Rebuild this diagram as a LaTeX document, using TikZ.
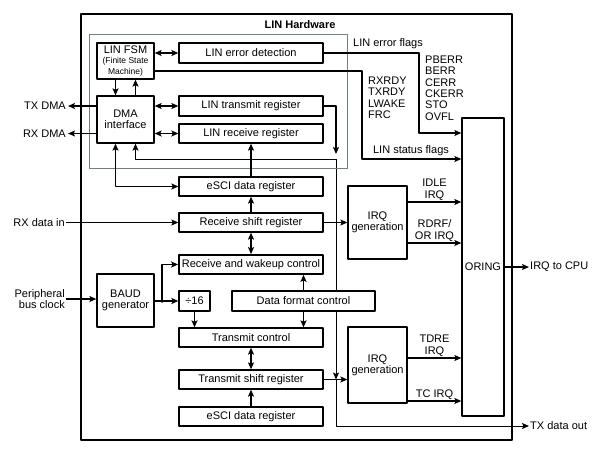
\documentclass[tikz,border=0pt]{standalone}
\usepackage{fontspec}
\setmainfont{Liberation Sans}
\usetikzlibrary{arrows.meta,backgrounds}
\definecolor{framegray}{RGB}{112,128,128}
\def\finefont{\fontsize{8.5}{9.5}\selectfont}
\begin{document}
\begin{tikzpicture}[x=1pt, y=-1pt, >={Stealth[length=7pt,width=6pt,inset=1.5pt]}, line join=round,
	font=\fontsize{11}{11.4}\selectfont,
	box/.style={draw, line width=1.3pt, fill=white, inner sep=1pt, minimum height=20pt},
	reg/.style={box, minimum width=144pt, minimum height=19pt},
	tall/.style={box, align=center, minimum width=57pt},
	irqbox/.style={box, align=center, minimum width=59pt},
	link/.style={line width=1.4pt},
	thin link/.style={line width=0.9pt},
	lbl/.style={inner sep=1pt, align=left}]
			%% Frame
			\useasboundingbox (0,0) rectangle (615,448);
			\draw [line width=2pt] (81,14) rectangle (512,440);
			\draw [framegray, line width=0.9pt] (89,34) rectangle (347,168);
			\node [font=\bfseries\fontsize{11}{12}\selectfont] (title) at (300,25) {LIN Hardware};
			%% LIN blocks
			\node [tall, minimum height=36pt] (fsm) at (125.5,61) {LIN FSM\\[-1pt]\finefont(Finite State\\\finefont Machine)};
			\node [tall, minimum height=47pt] (dma) at (125.5,119.5) {DMA\\interface};
			\node [reg, minimum height=20pt] (errdet) at (251,53) {LIN error detection};
			\node [reg, minimum height=20pt] (lintx) at (251,106) {LIN transmit register};
			\node [reg] (linrx) at (251,133.5) {LIN receive register};
			%% eSCI blocks
			\node [reg] (esciup) at (251,186.5) {eSCI data register};
			\node [reg] (rxshift) at (251,222.5) {Receive shift register};
			\node [reg, line width=1.7pt] (rxwake) at (251,264.5) {Receive and wakeup control};
			\node [tall, minimum height=53pt] (baud) at (125.5,300.5) {BAUD\\generator};
			\node [box, minimum width=31pt] (div) at (194.5,301) {÷16};
			\node [box, minimum width=143pt] (dfc) at (303.5,301) {Data format control};
			\node [reg] (txctl) at (251,337.5) {Transmit control};
			\node [reg] (txshift) at (251,379.5) {Transmit shift register};
			\node [reg] (escilow) at (251,416.5) {eSCI data register};
			\node [irqbox, minimum height=73pt] (irqa) at (377.5,222.5) {IRQ\\generation};
			\node [irqbox, minimum height=76pt] (irqb) at (377.5,365) {IRQ\\generation};
			\node [box, minimum width=42pt, minimum height=298pt] (oring) at (483,267) {ORING};
			%% Outside texts
			\node [anchor=east, inner sep=2pt] (txdma) at (68,106) {TX DMA};
			\node [anchor=east, inner sep=2pt] (rxdma) at (68,133.5) {RX DMA};
			\node [anchor=east, inner sep=1pt] (rxin) at (66,222.5) {RX data in};
			\node [anchor=east, align=right, inner sep=1pt] (clk) at (66,299) {Peripheral\\bus clock};
			\node [anchor=west, inner sep=1pt] (cpu) at (529,267) {IRQ to CPU};
			\node [anchor=west, inner sep=1pt] (txout) at (529,426) {TX data out};
			\node [lbl] (errlbl) at (388,44) {LIN error flags};
			\node [lbl] (statlbl) at (411,151) {LIN status flags};
			\node [lbl, anchor=north west] (rxflags) at (367,75.5) {RXRDY\\TXRDY\\LWAKE\\FRC};
			\node [lbl, anchor=north west] (errflags) at (424,54.5) {PBERR\\BERR\\CERR\\CKERR\\STO\\OVFL};
			%% Bend points
			\coordinate (errdrop) at (419,133);
			\coordinate (statdrop) at (362,159);
			\coordinate (txtap) at (336,159);
			\coordinate (txjoin) at (336,379.5);
			\coordinate (baudtap) at (162,301);
			%% LIN connectors
			\draw [link, <->] (fsm.east |- errdet.west) -- (errdet.west);
			\draw [link, <->] (dma.east |- lintx.west) -- (lintx.west);
			\draw [link, <->] (dma.east |- linrx.west) -- (linrx.west);
			\draw [link, ->] ([xshift=-10pt]fsm.south) -- ([xshift=-10pt]dma.north);
			\draw [link, ->] ([xshift=10pt]dma.north) -- ([xshift=10pt]fsm.south);
			\draw [link, ->] (dma.west |- txdma.east) -- (txdma.east);
			\draw [link, ->] (dma.west |- rxdma.east) -- (rxdma.east);
			\draw [link, <->] ([xshift=-10pt]dma.south) |- (esciup.west);
			\draw [link, ->] (errdet.east) -| (errdrop) -- (oring.west |- errdrop);
			\draw [link, ->] ([yshift=-10pt]fsm.east) -| (statdrop) -- (oring.west |- statdrop);
			%% Transmit out
			\draw [link, ->] (lintx.east) -| ([yshift=5pt]txtap);
			\draw [thin link, ->] (txtap) -| ([xshift=10pt]dma.south);
			\begin{scope}[on background layer]
			\draw [thin link, ->] (txtap) -- (txjoin);
			\end{scope}
			\draw [thin link, ->] (txjoin) |- (txout.west);
			\draw [link, ->] (txshift.east) -- (irqb.west |- txshift.east);
			%% Receive path
			\draw [thin link, ->] (rxin.east) -- (rxshift.west);
			\draw [link, ->] (rxshift.north) -- (esciup.south);
			\draw [link, ->] (esciup.north) -- (linrx.south);
			\draw [thin link, ->] (rxshift.east) -- (irqa.west |- rxshift.east);
			\draw [link, <->] (rxshift.south) -- (rxwake.north);
			%% Clock and control
			\draw [link, ->] (clk.east) -- (baud.west |- clk.east);
			\draw [link, ->] (baud.east |- div.west) -- (div.west);
			\fill (baudtap) circle (1.8pt);
			\draw [link, ->] (baudtap) |- (rxwake.west);
			\draw [link, ->] (dfc.north) -- (dfc.north |- rxwake.south);
			\draw [link, ->] (dfc.south) -- (dfc.south |- txctl.north);
			\draw [link, ->] (div.south) -- (div.south |- txctl.north);
			\draw [link, <->] (txctl.south) -- (txshift.north);
			\draw [link, ->] (escilow.north) -- (txshift.south);
			%% Interrupts
			\draw [link, ->] ([yshift=20.5pt]irqa.east) -- ([yshift=20.5pt]irqa.east -| oring.west) node [midway, above, align=center, inner sep=1pt] {IDLE\\IRQ};
			\draw [link, ->] ([yshift=-20.5pt]irqa.east) -- ([yshift=-20.5pt]irqa.east -| oring.west) node [midway, above, align=center, inner sep=1pt] {RDRF/\\OR IRQ};
			\draw [link, ->] ([yshift=7pt]irqb.east) -- ([yshift=7pt]irqb.east -| oring.west) node [midway, above, align=center, inner sep=1pt] {TDRE\\IRQ};
			\draw [link, ->] ([yshift=-36pt]irqb.east) -- ([yshift=-36pt]irqb.east -| oring.west) node [midway, above, inner sep=1pt] {TC IRQ};
			\draw [link, ->] (oring.east) -- (cpu.west);
\end{tikzpicture}
\end{document}
